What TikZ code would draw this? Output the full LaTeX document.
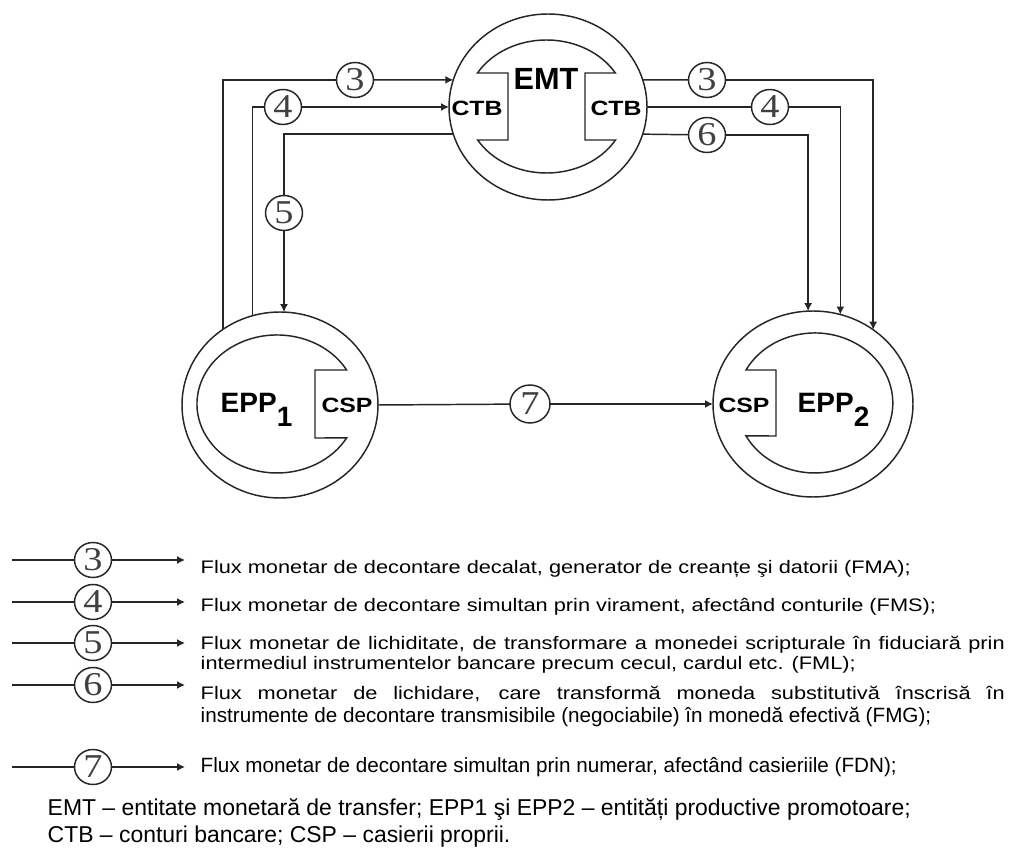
\documentclass[tikz,border=0pt]{standalone}
\usepackage{fontspec}
\setmainfont{Liberation Sans}
\newfontfamily\keyfont[FakeStretch=1.2]{Liberation Sans}
\newfontfamily\tagfont[FakeStretch=1.2]{Liberation Sans}
\newfontfamily\digitfont[FakeStretch=1.15]{Liberation Serif}
\usetikzlibrary{arrows.meta,shapes.geometric}

\begin{document}
\begin{tikzpicture}[x=0.75pt,y=-0.75pt,line width=1.1pt,
  ring/.style={draw=black!85, ellipse, inner sep=0pt, outer sep=0pt},
  tag/.style={draw=black!85, ellipse, minimum width=27.75pt, minimum height=26.25pt,
    inner sep=0pt, outer sep=0pt, font=\digitfont\fontsize{25}{25}\selectfont, text=black!75},
  flow/.style={draw=black!85},
  tip/.style={-{Latex[length=6pt,width=6pt]}},
  lbl/.style={inner sep=0pt, font=\tagfont\bfseries\fontsize{15.5}{15.5}\selectfont},
  bigname/.style={inner sep=0pt, anchor=base west, font=\bfseries\fontsize{21}{21}\selectfont},
  legend/.style={inner sep=0pt, anchor=west, font=\keyfont\fontsize{13.6}{15}\selectfont},
  legendn/.style={inner sep=0pt, anchor=west, font=\fontsize{15.5}{17}\selectfont},
  footer/.style={inner sep=0pt, anchor=west, font=\fontsize{17.2}{18}\selectfont},
]
\fill[white] (0,0) rectangle (1015,855);
\useasboundingbox (0,0) rectangle (1015,855);

% ---- entities (outer rings) ----
\node[ring, minimum width=148.5pt, minimum height=139.5pt] (emt)  at (548,107) {};
\node[ring, minimum width=147pt,   minimum height=139.5pt] (epp1) at (280,405) {};
\node[ring, minimum width=150pt,   minimum height=139.5pt] (epp2) at (813,404) {};

% ---- inner bodies with account notches ----
\draw[flow] (477.5,73) arc[start angle=210.5, end angle=329.5, x radius=80, y radius=67]
  -- (585,73) -- (585,140) -- (615.5,140)
  arc[start angle=30.5, end angle=149.5, x radius=80, y radius=67]
  -- (508,140) -- (508,73) -- cycle;
\draw[flow] (346.6,370) arc[start angle=-29.5, end angle=-330.5, x radius=80, y radius=69]
  -- (315,438) -- (315,370) -- cycle;
\draw[flow] (746,370) arc[start angle=208.1, end angle=511.9, x radius=78, y radius=70]
  -- (776,436) -- (776,370) -- cycle;

% ---- entity labels ----
\node[inner sep=0pt, font=\bfseries\fontsize{23}{23}\selectfont] (emtname) at (546,79) {EMT};
\node[lbl] (ctbl) at (477,108) {CTB};
\node[lbl] (ctbr) at (616,108) {CTB};
\node[lbl] (cspl) at (347,405) {CSP};
\node[lbl] (cspr) at (744,405) {CSP};
\node[bigname] (epp1name) at (220,413) {EPP\raisebox{-10.5pt}{1}};
\node[bigname] (epp2name) at (797,413) {EPP\raisebox{-10.5pt}{2}};

% ---- flow tags ----
\node[tag] (n3a) at (355,80)  {3};
\node[tag] (n4a) at (283,107) {4};
\node[tag] (n5a) at (284,213) {5};
\node[tag] (n3b) at (707,80)  {3};
\node[tag] (n4b) at (770,107) {4};
\node[tag] (n6b) at (707,135) {6};
\node[tag, minimum width=30pt, minimum height=28.5pt] (n7) at (530,404) {7};

% ---- flows on the left ----
\draw[flow] (epp1.127) |- (n3a);
\draw[flow,tip] (n3a) -- (emt.164);
\draw[flow] (epp1.107) |- (n4a);
\draw[flow,tip] (n4a) -- (emt.west);
\draw[flow] (emt.196) -| (n5a);
\draw[flow,tip] (n5a) -- (n5a |- epp1.88);

% ---- flows on the right ----
\draw[flow] (emt.16) -- (n3b);
\draw[flow,tip] (n3b) -| (epp2.51);
\draw[flow] (emt.east) -- (n4b);
\draw[flow,tip] (n4b) -| (epp2.73);
\draw[flow] (emt.344) -- (n6b);
\draw[flow,tip] (n6b) -| (epp2.93);

% ---- cash flow between the two entities ----
\draw[flow] (epp1.east) -- (n7);
\draw[flow,tip] (n7) -- (epp2.west);

% ---- key ----
\foreach \k/\y in {3/560,4/602,5/643,6/685,7/767}{
  \coordinate (ka\k) at (12,\y);
  \coordinate (kb\k) at (185,\y);
  \node[tag] (k\k) at (93,\y) {\k};
  \draw[flow] (ka\k) -- (k\k);
  \draw[flow,tip] (k\k) -- (kb\k);
}

\node[legend] (t3) at (200,569) {Flux monetar de decontare decalat, generator de creanțe şi datorii (FMA);};
\node[legend] (t4) at (200,607) {Flux monetar de decontare simultan prin virament, afectând conturile (FMS);};
\node[legend] (t5a) at (200,645) {\makebox[603pt][s]{Flux monetar de lichiditate, de transformare a monedei scripturale în fiduciară prin}};
\node[legend] (t5b) at (200,665) {intermediul instrumentelor bancare precum cecul, cardul etc. (FML);};
\node[legend] (t6a) at (200,694) {\makebox[603pt][s]{Flux monetar de lichidare, care transformă moneda substitutivă înscrisă în}};
\node[legendn] (t6b) at (200,717) {instrumente de decontare transmisibile (negociabile) în monedă efectivă (FMG);};
\node[legendn] (t7) at (200,767) {Flux monetar de decontare simultan prin numerar, afectând casieriile (FDN);};

\node[footer] (f1) at (47,809) {EMT – entitate monetară de transfer; EPP1 şi EPP2 – entități productive promotoare;};
\node[footer] (f2) at (47,837) {CTB – conturi bancare; CSP – casierii proprii.};
\end{tikzpicture}
\end{document}
